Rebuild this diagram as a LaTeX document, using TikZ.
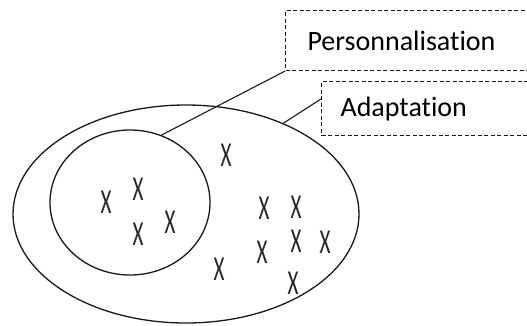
\documentclass[tikz,border=0pt]{standalone}
\usepackage{fontspec}
\setmainfont[RawFeature={-liga;-clig;-dlig}]{Carlito}
\usetikzlibrary{shapes.geometric}
\begin{document}
\begin{tikzpicture}[x=1pt,y=-1pt,
  set/.style={draw=black!90,line width=1.3pt,ellipse,inner sep=0pt},
  labelbox/.style={draw=black!90,dash pattern=on 4pt off 2.5pt,line width=1.1pt,
    rectangle,anchor=north west,align=left,inner ysep=0pt,
    font=\fontsize{28}{30}\selectfont,text=black},
  item/.style={font=\fontsize{35}{36}\selectfont,text=black!85,xscale=0.6,inner sep=0pt},
  link/.style={draw=black!90,line width=1.1pt}]
\useasboundingbox (0,0) rectangle (527,326);

% the two sets
\node[set,minimum width=346pt,minimum height=218pt] (outer) at (186,214) {};
\node[set,minimum width=160pt,minimum height=145pt] (inner) at (130,202.5) {};

% dashed labels (running off the right edge)
\node[labelbox,text width=260pt,inner xsep=22pt,minimum height=60pt] (pers) at (285,10) {Personnalisation};
\node[labelbox,text width=230pt,inner xsep=19pt,minimum height=54pt] (adap) at (321,81) {Adaptation};

% leader lines
\draw[link] (inner.65) -- (pers.south west);
\draw[link] (outer.43) -- ([yshift=-18pt]adap.north west);

% elements
\foreach \p/\n in {{(106,202)}/a,{(138,189)}/b,{(138,234)}/c,{(170,222)}/d,
                   {(226,155)}/e,{(264,208)}/f,{(296,207)}/g,{(296,241)}/h,
                   {(325,242)}/i,{(262,252)}/j,{(219,269)}/k,{(293,283)}/l}
  \node[item] (x\n) at \p {X};
\end{tikzpicture}
\end{document}
